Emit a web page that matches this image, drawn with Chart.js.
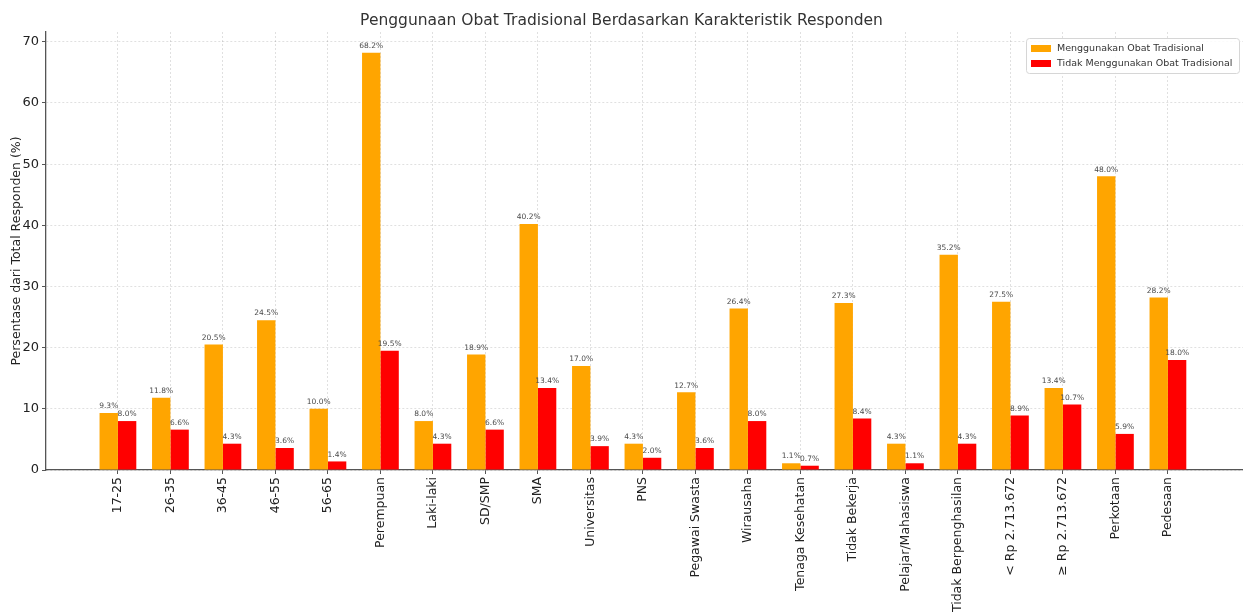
<!DOCTYPE html>
<html>
<head>
<meta charset="utf-8">
<script src="https://cdn.jsdelivr.net/npm/chart.js@4/dist/chart.umd.min.js"></script>
<style>
  html, body { margin: 0; padding: 0; background: #fff; }
  #wrap { width: 1243px; height: 615px; }
</style>
</head>
<body>
<div id="wrap"><canvas id="chart" width="1243" height="615"></canvas></div>
<script>
const categories = [
  '17-25', '26-35', '36-45', '46-55', '56-65',
  'Perempuan', 'Laki-laki',
  'SD/SMP', 'SMA', 'Universitas',
  'PNS', 'Pegawai Swasta', 'Wirausaha', 'Tenaga Kesehatan', 'Tidak Bekerja', 'Pelajar/Mahasiswa', 'Tidak Berpenghasilan',
  '< Rp 2.713.672', '≥ Rp 2.713.672',
  'Perkotaan', 'Pedesaan'
];
const usingTraditional = [9.3, 11.8, 20.5, 24.5, 10.0, 68.2, 8.0, 18.9, 40.2, 17.0, 4.3, 12.7, 26.4, 1.1, 27.3, 4.3, 35.2, 27.5, 13.4, 48.0, 28.2];
const notUsingTraditional = [8.0, 6.6, 4.3, 3.6, 1.4, 19.5, 4.3, 6.6, 13.4, 3.9, 2.0, 3.6, 8.0, 0.7, 8.4, 1.1, 4.3, 8.9, 10.7, 5.9, 18.0];
const yTicks = [0, 10, 20, 30, 40, 50, 60, 70];

Chart.defaults.font.family = '"DejaVu Sans", sans-serif';

const gridColor = 'rgba(0,0,0,0.12)';
const axisColor = '#555';

// value labels above every bar
const barValueLabels = {
  id: 'barValueLabels',
  afterDatasetsDraw(chart) {
    const ctx = chart.ctx;
    ctx.save();
    ctx.font = '7.5px "DejaVu Sans", sans-serif';
    ctx.fillStyle = '#4a4a4a';
    ctx.textAlign = 'center';
    ctx.textBaseline = 'bottom';
    chart.data.datasets.forEach((ds, di) => {
      chart.getDatasetMeta(di).data.forEach((bar, i) => {
        ctx.fillText(ds.data[i].y.toFixed(1) + '%', bar.x, bar.y - 3);
      });
    });
    ctx.restore();
  }
};

// legend box inside the plot, top right
const insideLegend = {
  id: 'insideLegend',
  afterDraw(chart) {
    const ctx = chart.ctx;
    const x = 1026, y = 38, w = 213, h = 35;
    ctx.save();
    ctx.fillStyle = 'rgba(255,255,255,0.85)';
    ctx.strokeStyle = '#d6d6d6';
    ctx.lineWidth = 1;
    ctx.beginPath();
    ctx.roundRect(x + 0.5, y + 0.5, w, h, 3);
    ctx.fill();
    ctx.stroke();
    ctx.font = '9.5px "DejaVu Sans", sans-serif';
    ctx.textBaseline = 'middle';
    ctx.textAlign = 'left';
    chart.data.datasets.forEach((ds, i) => {
      const ly = y + 10 + i * 15;
      ctx.fillStyle = ds.backgroundColor;
      ctx.fillRect(x + 5, ly - 3, 20, 7);
      ctx.fillStyle = '#333';
      ctx.fillText(ds.label, x + 31, ly + 1);
    });
    ctx.restore();
  }
};

const config = {
  type: 'bar',
  data: {
    datasets: [
      {
        label: 'Menggunakan Obat Tradisional',
        data: usingTraditional.map((v, i) => ({ x: i, y: v })),
        backgroundColor: '#FFA500'
      },
      {
        label: 'Tidak Menggunakan Obat Tradisional',
        data: notUsingTraditional.map((v, i) => ({ x: i, y: v })),
        backgroundColor: '#FF0000'
      }
    ]
  },
  options: {
    responsive: false,
    animation: false,
    devicePixelRatio: 1,
    categoryPercentage: 0.7,
    barPercentage: 1.0,
    layout: { padding: 0 },
    scales: {
      x: {
        type: 'linear',
        offset: false,
        min: -1.37,
        max: 21.43,
        afterBuildTicks: axis => { axis.ticks = categories.map((c, i) => ({ value: i })); },
        afterFit: scale => { scale.height = 145; },
        ticks: {
          callback: v => categories[v],
          autoSkip: false,
          minRotation: 90,
          maxRotation: 90,
          padding: 3,
          color: '#222',
          font: { size: 12.5 }
        },
        grid: { offset: false, color: gridColor, tickColor: axisColor, tickLength: 4, tickBorderDash: [] },
        border: { color: axisColor, width: 1.3, dash: [2, 2] }
      },
      y: {
        min: 0,
        max: 71.6,
        afterBuildTicks: axis => { axis.ticks = yTicks.map(v => ({ value: v })); },
        afterFit: scale => { scale.width = 46; },
        ticks: { padding: 3, color: '#222', font: { size: 13 } },
        grid: { color: gridColor, tickColor: axisColor, tickLength: 4, tickBorderDash: [] },
        border: { color: axisColor, width: 1.3, dash: [2, 2] },
        title: {
          display: true,
          text: 'Persentase dari Total Responden (%)',
          color: '#222',
          font: { size: 12.5 },
          padding: { top: 9, bottom: 0 }
        }
      }
    },
    plugins: {
      legend: { display: false },
      tooltip: { enabled: false },
      title: {
        display: true,
        text: 'Penggunaan Obat Tradisional Berdasarkan Karakteristik Responden',
        color: '#333',
        font: { size: 15.5, weight: 'normal' },
        padding: { top: 12, bottom: 1.4 }
      }
    }
  },
  plugins: [barValueLabels, insideLegend]
};

const ctx = document.querySelector('#chart').getContext('2d');
new Chart(ctx, config);
</script>
</body>
</html>
